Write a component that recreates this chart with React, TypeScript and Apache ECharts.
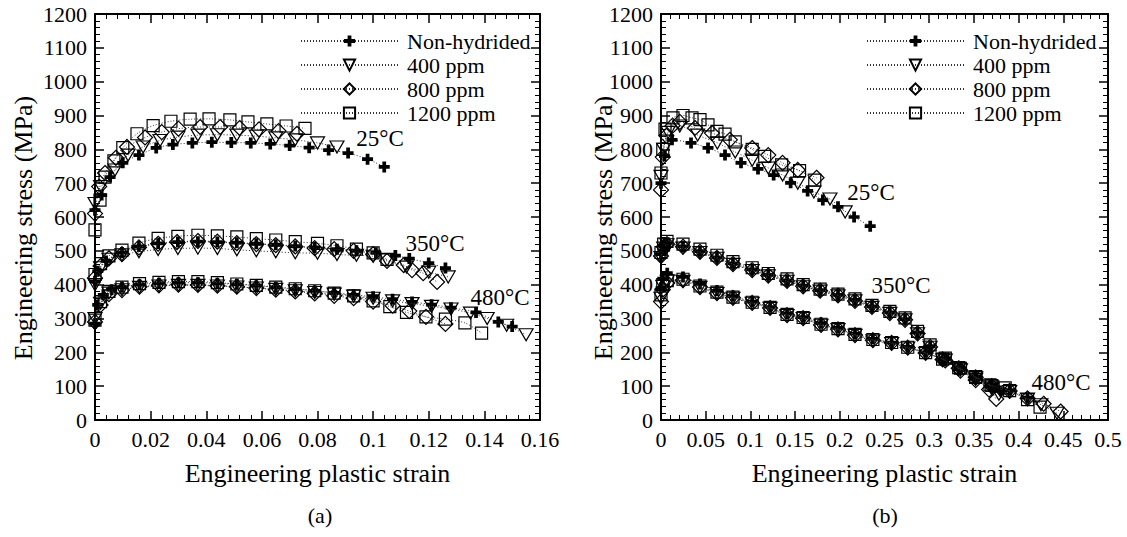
import { useEffect, useRef } from 'react';
import * as echarts from 'echarts';

const FONT = 'Liberation Serif, serif';
const LEVELS = ['Non-hydrided', '400 ppm', '800 ppm', '1200 ppm'];
const X_MAX_A = 0.16;
const X_STEP_A = 0.02;
const X_MAX_B = 0.5;
const X_STEP_B = 0.05;
const Y_MAX = 1200;
const Y_STEP = 100;
const X_TICKS_A = [0, 0.02, 0.04, 0.06, 0.08, 0.1, 0.12, 0.14, 0.16];
const X_TICKS_B = [0, 0.05, 0.1, 0.15, 0.2, 0.25, 0.3, 0.35, 0.4, 0.45, 0.5];
const Y_TICKS = [0, 100, 200, 300, 400, 500, 600, 700, 800, 900, 1000, 1100, 1200];
const X_NAME = 'Engineering plastic strain';
const Y_NAME = 'Engineering stress (MPa)';
const TEMP_LABELS = ['25°C', '350°C', '480°C'];
const CAPTIONS = ['(a)', '(b)'];

// ---- Panel (a) ----
const a25NonHydrided = [[0,620],[0.0024,665],[0.0054,718],[0.010,760],[0.0158,783],[0.022,804],[0.028,814],[0.035,819],[0.042,821],[0.049,820],[0.056,819],[0.063,816],[0.07,811],[0.077,805],[0.084,798],[0.091,789],[0.098,771],[0.104,748]];
const a25ppm400 = [[0,640],[0.002,690],[0.0072,739],[0.0119,783],[0.0173,807],[0.0234,826],[0.0298,836],[0.037,842],[0.044,843],[0.051,842],[0.058,839],[0.065,834],[0.072,828],[0.08,819],[0.087,807]];
const a25ppm800 = [[0,610],[0.0015,690],[0.0036,730],[0.0075,775],[0.0115,807],[0.018,835],[0.024,851],[0.030,861],[0.0378,866],[0.045,866],[0.052,863],[0.059,859],[0.066,854],[0.0726,846]];
const a25ppm1200 = [[0,562],[0.0018,650],[0.0036,718],[0.0068,766],[0.010,805],[0.0151,846],[0.0209,870],[0.0273,883],[0.0342,889],[0.041,890],[0.0485,887],[0.055,881],[0.0618,875],[0.0687,869],[0.0755,862]];

const a350NonHydrided = [[0,410],[0.001,440],[0.004,470],[0.0097,495],[0.0158,513],[0.0227,522],[0.0298,526],[0.037,527],[0.044,526],[0.051,524],[0.058,521],[0.065,518],[0.072,514],[0.079,510],[0.087,505],[0.094,500],[0.101,494],[0.108,486],[0.113,477],[0.12,464],[0.126,449]];
const a350ppm400 = [[0,400],[0.002,450],[0.005,475],[0.0097,488],[0.0158,497],[0.0227,504],[0.0298,507],[0.037,508],[0.044,507],[0.051,503],[0.058,500],[0.065,497],[0.072,494],[0.08,493],[0.087,489],[0.094,487],[0.1,484],[0.105,473],[0.112,452],[0.12,437],[0.127,423]];
const a350ppm800 = [[0,420],[0.002,455],[0.005,478],[0.0097,490],[0.0158,510],[0.0227,521],[0.0295,526],[0.037,529],[0.044,527],[0.051,523],[0.058,520],[0.065,517],[0.072,513],[0.079,508],[0.086,505],[0.093,500],[0.1,490],[0.105,470],[0.111,458],[0.114,443],[0.118,434],[0.123,408]];
const a350ppm1200 = [[0,430],[0.002,462],[0.005,485],[0.0097,502],[0.0158,523],[0.0227,537],[0.0298,543],[0.037,546],[0.044,544],[0.051,541],[0.058,536],[0.065,532],[0.072,527],[0.08,522],[0.087,515],[0.094,505],[0.1,494],[0.105,475]];

const a480NonHydrided = [[0,285],[0.001,340],[0.003,370],[0.006,385],[0.0097,393],[0.016,400],[0.023,404],[0.030,406],[0.037,406],[0.044,404],[0.051,401],[0.058,397],[0.065,392],[0.072,387],[0.079,382],[0.086,376],[0.093,370],[0.1,364],[0.107,357],[0.114,349],[0.121,341],[0.128,332],[0.137,318],[0.145,290],[0.15,276]];
const a480ppm400 = [[0,300],[0.002,345],[0.005,375],[0.0097,385],[0.016,392],[0.023,396],[0.03,398],[0.037,398],[0.044,396],[0.051,393],[0.058,390],[0.065,386],[0.072,382],[0.079,377],[0.086,372],[0.093,366],[0.1,360],[0.107,352],[0.114,344],[0.121,336],[0.128,328],[0.135,316],[0.141,300],[0.148,280],[0.155,252]];
const a480ppm800 = [[0,290],[0.002,340],[0.005,372],[0.0097,384],[0.016,394],[0.023,398],[0.03,400],[0.037,399],[0.044,397],[0.051,394],[0.058,390],[0.065,385],[0.072,380],[0.079,374],[0.086,367],[0.093,360],[0.1,350],[0.107,338],[0.113,322],[0.119,305],[0.126,284]];
const a480ppm1200 = [[0,295],[0.002,350],[0.005,380],[0.0097,393],[0.016,403],[0.023,407],[0.03,409],[0.037,409],[0.044,406],[0.051,402],[0.058,398],[0.065,393],[0.072,388],[0.079,382],[0.086,375],[0.093,367],[0.1,352],[0.106,335],[0.112,318],[0.119,305],[0.126,298],[0.133,287],[0.139,257]];

// ---- Panel (b) ----
const b25NonHydrided = [[0,700],[0.004,780],[0.0123,828],[0.0336,819],[0.0526,804],[0.0716,783],[0.0895,760],[0.1085,742],[0.126,724],[0.145,701],[0.164,677],[0.181,650],[0.198,630],[0.216,600],[0.234,573]];
const b25ppm400 = [[0,720],[0.003,800],[0.008,850],[0.021,869],[0.041,842],[0.063,819],[0.083,792],[0.102,768],[0.12,745],[0.136,724],[0.153,700],[0.171,674],[0.189,653],[0.206,615]];
const b25ppm800 = [[0,680],[0.002,777],[0.006,840],[0.013,870],[0.021,881],[0.038,863],[0.057,848],[0.077,828],[0.102,804],[0.12,783],[0.136,760],[0.153,739],[0.174,716]];
const b25ppm1200 = [[0,730],[0.002,800],[0.0045,860],[0.0134,893],[0.0246,900],[0.0347,893],[0.0436,888],[0.0526,872],[0.0626,853],[0.0716,845],[0.083,822],[0.102,800],[0.116,779],[0.135,754],[0.155,737],[0.172,709]];

const b350NonHydrided = [[0,490],[0.003,515],[0.0067,522],[0.0246,513],[0.0436,499],[0.0626,481],[0.0805,463],[0.102,445],[0.12,429],[0.141,413],[0.159,397],[0.178,384],[0.198,370],[0.217,355],[0.236,336],[0.256,318],[0.273,298],[0.287,258],[0.301,218],[0.318,180],[0.335,150],[0.352,122],[0.368,100],[0.38,86]];
const b350ppm400 = [[0,480],[0.003,508],[0.0067,518],[0.0246,508],[0.0436,495],[0.0626,478],[0.0805,460],[0.102,442],[0.12,426],[0.141,410],[0.159,394],[0.178,381],[0.198,367],[0.217,352],[0.236,333],[0.256,315],[0.273,296],[0.287,255],[0.301,215],[0.318,177],[0.335,148],[0.352,120],[0.37,92],[0.378,76]];
const b350ppm800 = [[0,485],[0.003,512],[0.0067,520],[0.0246,512],[0.0436,497],[0.0626,479],[0.0805,461],[0.102,443],[0.12,427],[0.141,411],[0.159,395],[0.178,382],[0.198,368],[0.217,352],[0.236,334],[0.256,316],[0.273,296],[0.287,256],[0.301,216],[0.318,176],[0.335,146],[0.352,118],[0.367,90],[0.375,62]];
const b350ppm1200 = [[0,495],[0.003,520],[0.0067,528],[0.0246,520],[0.0436,505],[0.0626,487],[0.0805,468],[0.102,450],[0.12,433],[0.141,417],[0.159,400],[0.178,387],[0.198,372],[0.217,358],[0.236,339],[0.256,321],[0.273,302],[0.287,262],[0.301,222],[0.318,183],[0.335,153],[0.352,126],[0.368,104],[0.385,95]];

const b480NonHydrided = [[0,390],[0.002,418],[0.007,434],[0.0246,423],[0.0436,402],[0.0626,382],[0.0805,366],[0.102,350],[0.122,334],[0.141,315],[0.159,304],[0.179,286],[0.198,272],[0.217,255],[0.237,240],[0.258,229],[0.276,216],[0.296,200],[0.315,181],[0.333,156],[0.352,129],[0.37,104],[0.39,88],[0.41,66]];
const b480ppm400 = [[0,360],[0.002,395],[0.007,410],[0.0246,410],[0.0436,392],[0.0626,374],[0.0805,360],[0.102,345],[0.122,330],[0.141,309],[0.159,300],[0.179,280],[0.198,267],[0.217,250],[0.237,234],[0.258,226],[0.276,213],[0.296,197],[0.315,178],[0.333,152],[0.352,125],[0.37,98],[0.39,84],[0.41,62],[0.425,45],[0.443,20]];
const b480ppm800 = [[0,350],[0.002,385],[0.007,405],[0.0246,413],[0.0436,393],[0.0626,375],[0.0805,361],[0.102,346],[0.122,331],[0.141,310],[0.159,301],[0.179,281],[0.198,268],[0.217,251],[0.237,236],[0.258,228],[0.276,214],[0.296,198],[0.315,179],[0.333,153],[0.352,126],[0.37,100],[0.39,86],[0.41,64],[0.428,48],[0.447,25]];
const b480ppm1200 = [[0,370],[0.002,400],[0.007,412],[0.0246,416],[0.0436,396],[0.0626,378],[0.0805,363],[0.102,348],[0.122,333],[0.141,312],[0.159,303],[0.179,283],[0.198,270],[0.217,253],[0.237,238],[0.258,229],[0.276,215],[0.296,199],[0.315,180],[0.333,155],[0.352,128],[0.37,102],[0.39,87],[0.41,60],[0.424,38]];

const PLUS = 'path://M3.3,0H6.7V3.3H10V6.7H6.7V10H3.3V6.7H0V3.3H3.3Z';
const STYLE: Record<string, any> = {
  'Non-hydrided': { symbol: PLUS, symbolSize: 11, rotate: 0, item: { color: '#000', borderWidth: 0 } },
  '400 ppm': { symbol: 'triangle', symbolSize: [14, 12], rotate: 180, item: { color: 'none', borderColor: '#000', borderWidth: 1.2 } },
  '800 ppm': { symbol: 'diamond', symbolSize: [15, 15], rotate: 0, item: { color: 'none', borderColor: '#000', borderWidth: 1.2 } },
  '1200 ppm': { symbol: 'rect', symbolSize: 12, rotate: 0, item: { color: 'none', borderColor: '#000', borderWidth: 1.2 } },
};

const PANEL_A = [
  [a25NonHydrided, a25ppm400, a25ppm800, a25ppm1200],
  [a350NonHydrided, a350ppm400, a350ppm800, a350ppm1200],
  [a480NonHydrided, a480ppm400, a480ppm800, a480ppm1200],
];
const PANEL_B = [
  [b25NonHydrided, b25ppm400, b25ppm800, b25ppm1200],
  [b350NonHydrided, b350ppm400, b350ppm800, b350ppm1200],
  [b480NonHydrided, b480ppm400, b480ppm800, b480ppm1200],
];

const GRID_A = { left: 95, top: 14, width: 445, height: 406 };
const GRID_B = { left: 661, top: 14, width: 447, height: 406 };

function fmt(v: number) {
  return v === 0 ? '0' : String(parseFloat(v.toFixed(2)));
}

function makeSeries(panel: number[][][], axisIndex: number) {
  const out: any[] = [];
  panel.forEach((group) => {
    group.forEach((data, i) => {
      const name = LEVELS[i];
      const st = STYLE[name];
      out.push({
        type: 'line',
        name,
        xAxisIndex: axisIndex,
        yAxisIndex: axisIndex,
        data,
        smooth: 0.3,
        symbol: st.symbol,
        symbolSize: st.symbolSize,
        symbolRotate: st.rotate,
        showAllSymbol: true,
        itemStyle: st.item,
        lineStyle: { color: '#333', width: 1, type: [1, 2] },
        emphasis: { disabled: true },
        z: 3 + i,
      });
    });
  });
  return out;
}

function axisCommon(min: number, max: number, interval: number, grid: number, position: string) {
  return {
    type: 'value',
    gridIndex: grid,
    position,
    min,
    max,
    interval,
    splitLine: { show: false },
    axisLabel: { show: false },
    axisLine: { show: true, onZero: false, lineStyle: { color: '#000', width: 2 } },
    axisTick: { show: true, inside: true, length: 9, lineStyle: { color: '#000', width: 1.5 } },
    minorTick: { show: true, splitNumber: 5, length: 5, lineStyle: { color: '#000', width: 1 } },
    minorSplitLine: { show: false },
  };
}

function txt(x: number, y: number, text: string, size: number, align: string, vAlign: string, rotation = 0) {
  return {
    type: 'text',
    x,
    y,
    rotation,
    silent: true,
    z: 10,
    style: { text, fontFamily: FONT, fontSize: size, fill: '#000', align, verticalAlign: vAlign },
  };
}

export default function App() {
  const ref = useRef<HTMLDivElement>(null);
  useEffect(() => {
    if (!ref.current) return;
    const chart = echarts.init(ref.current, null, { renderer: 'svg' });
    const legendBase = {
      orient: 'vertical',
      top: 25,
      itemWidth: 97,
      itemHeight: 14,
      itemGap: 2,
      data: LEVELS,
      selectedMode: false,
      textStyle: { fontFamily: FONT, fontSize: 22, color: 'black', padding: [0, 0, 0, 4] },
    };
    chart.setOption({
      animation: false,
      grid: [
        { ...GRID_A, containLabel: false },
        { ...GRID_B, containLabel: false },
      ],
      xAxis: [
        axisCommon(0, X_MAX_A, X_STEP_A, 0, 'bottom'),
        axisCommon(0, X_MAX_A, X_STEP_A, 0, 'top'),
        axisCommon(0, X_MAX_B, X_STEP_B, 1, 'bottom'),
        axisCommon(0, X_MAX_B, X_STEP_B, 1, 'top'),
      ],
      yAxis: [
        axisCommon(0, Y_MAX, Y_STEP, 0, 'left'),
        axisCommon(0, Y_MAX, Y_STEP, 0, 'right'),
        axisCommon(0, Y_MAX, Y_STEP, 1, 'left'),
        axisCommon(0, Y_MAX, Y_STEP, 1, 'right'),
      ],
      legend: [
        { ...legendBase, left: 295 },
        { ...legendBase, left: 861 },
      ],
      series: [...makeSeries(PANEL_A, 0), ...makeSeries(PANEL_B, 2)],
    });

    const toX = (axisIdx: number, v: number, g: any, max: number) => {
      const p = chart.convertToPixel({ xAxisIndex: axisIdx } as any, v) as any;
      return Number.isFinite(p) ? p : g.left + (v / max) * g.width;
    };
    const toY = (axisIdx: number, v: number, g: any) => {
      const p = chart.convertToPixel({ yAxisIndex: axisIdx } as any, v) as any;
      return Number.isFinite(p) ? p : g.top + g.height - (v / Y_MAX) * g.height;
    };
    const graphics: any[] = [];
    graphics.push(txt(380, 138, TEMP_LABELS[0], 23, 'center', 'middle'));
    graphics.push(txt(435, 243, TEMP_LABELS[1], 23, 'center', 'middle'));
    graphics.push(txt(500, 297, TEMP_LABELS[2], 23, 'center', 'middle'));
    graphics.push(txt(871, 192, TEMP_LABELS[0], 23, 'center', 'middle'));
    graphics.push(txt(901, 285, TEMP_LABELS[1], 23, 'center', 'middle'));
    graphics.push(txt(1061, 382, TEMP_LABELS[2], 23, 'center', 'middle'));
    graphics.push(txt(320, 515, CAPTIONS[0], 22, 'center', 'middle'));
    graphics.push(txt(885, 515, CAPTIONS[1], 22, 'center', 'middle'));
    graphics.push(txt(GRID_A.left + GRID_A.width / 2, 473, X_NAME, 26, 'center', 'middle'));
    graphics.push(txt(GRID_B.left + GRID_B.width / 2, 473, X_NAME, 26, 'center', 'middle'));
    graphics.push(txt(23, 228, Y_NAME, 26, 'center', 'middle', Math.PI / 2));
    graphics.push(txt(603, 228, Y_NAME, 26, 'center', 'middle', Math.PI / 2));
    const bottomA = GRID_A.top + GRID_A.height;
    const bottomB = GRID_B.top + GRID_B.height;
    X_TICKS_A.forEach((v) => graphics.push(txt(toX(0, v, GRID_A, X_MAX_A), bottomA + 8, fmt(v), 22, 'center', 'top')));
    X_TICKS_B.forEach((v) => graphics.push(txt(toX(2, v, GRID_B, X_MAX_B), bottomB + 8, fmt(v), 22, 'center', 'top')));
    Y_TICKS.forEach((v) => graphics.push(txt(GRID_A.left - 8, toY(0, v, GRID_A), String(v), 22, 'right', 'middle')));
    Y_TICKS.forEach((v) => graphics.push(txt(GRID_B.left - 8, toY(2, v, GRID_B), String(v), 22, 'right', 'middle')));
    chart.setOption({ graphic: graphics });

    return () => chart.dispose();
  }, []);
  return <div ref={ref} style={{ position: 'fixed', left: 0, top: 0, width: 1127, height: 537, background: '#fff' }} />;
}
